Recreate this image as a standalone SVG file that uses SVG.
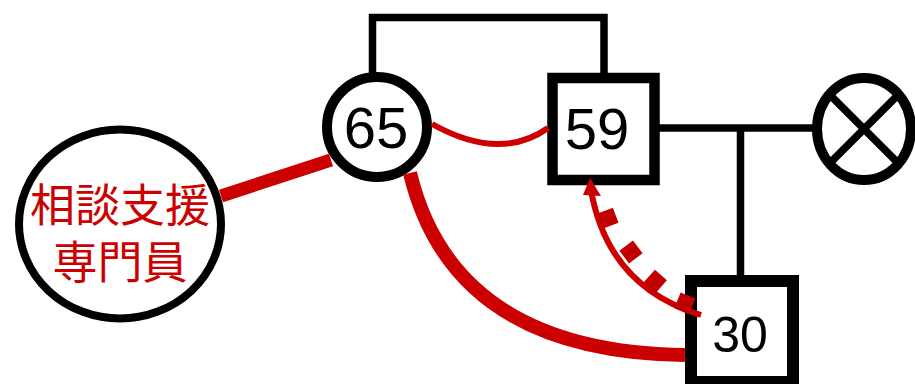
<svg xmlns="http://www.w3.org/2000/svg" width="915" height="384" viewBox="0 0 915 384">
<style>
.node{fill:#fff;stroke:#000}
.num{font-family:"Liberation Sans",Arial,sans-serif;fill:#000;text-anchor:middle}
.jp{font-family:"Noto Sans CJK JP","Noto Sans CJK SC",sans-serif;fill:#cc0000;text-anchor:middle;font-size:45px}
.blk{fill:none;stroke:#000;stroke-width:7.5}
.red{fill:none;stroke:#cc0000}
.dash{fill:none;stroke:#c00000;stroke-width:17}
</style>
<g id="node-staff">
<ellipse class="node" cx="120" cy="224" rx="101" ry="94.5" stroke-width="8"/>
<text class="jp" x="120" y="222">相談支援</text>
<text class="jp" x="120" y="279">専門員</text>
</g>
<g id="node-65">
<circle class="node" cx="377" cy="127" r="50" stroke-width="10"/>
<text class="num" x="376" y="148" font-size="58">65</text>
</g>
<g id="node-59">
<rect class="node" x="552.5" y="78" width="102" height="102" stroke-width="10.5"/>
<text class="num" x="597" y="149" font-size="58">59</text>
</g>
<g id="node-30">
<rect class="node" x="691" y="281" width="102" height="101" stroke-width="12"/>
<text class="num" x="740" y="352" font-size="50">30</text>
</g>
<g id="node-deceased">
<ellipse class="node" cx="864" cy="129" rx="47" ry="51" stroke-width="10"/>
<path d="M832,97 L896,161 M896,97 L832,161" fill="none" stroke="#000" stroke-width="7.5"/>
</g>
<g id="connectors">
<path class="blk" d="M372.5,73 V17.5 H604 V73"/>
<path class="blk" d="M657,128 H814"/>
<path class="blk" d="M740.5,128 V275"/>
<path class="red" stroke-width="13" d="M221,196 L331,160"/>
<path class="red" stroke-width="14" d="M410,173 Q453,352 685,355"/>
<path class="red" stroke-width="6" d="M432,124 Q500,162 548,128"/>
<path class="red" stroke-width="6" d="M701,315 Q608,287 591,190"/>
<path class="dash" d="M677.4,300.4 L692.2,306.4"/>
<path class="dash" d="M649.3,276 L661.3,286.6"/>
<path class="dash" d="M626.2,245.6 L635.8,258.4"/>
<path class="dash" d="M604.9,210.8 L610.5,225.8"/>
<polygon fill="#cc0000" points="590,178 601,196 583,195"/>
</g>
</svg>
